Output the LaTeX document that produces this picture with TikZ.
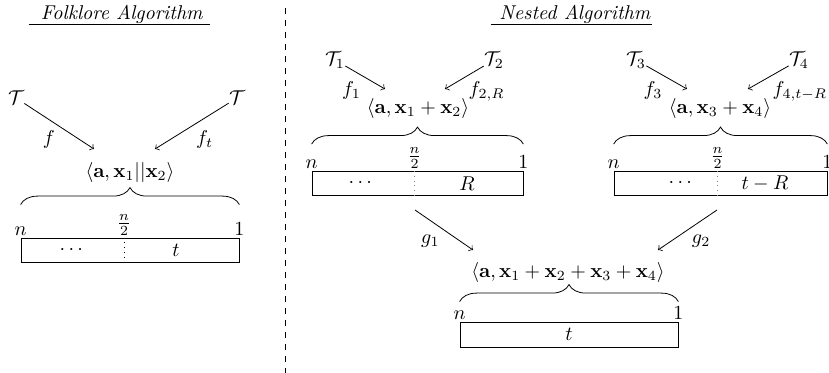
\documentclass[tikz,border=0pt]{standalone}
\usepackage{amsmath}
\usepackage{amssymb}
\usepackage{tikz}
\usetikzlibrary{decorations.pathreplacing}
\tikzstyle{regbox}=[draw, rectangle, inner sep=0pt, minimum height=12pt]
\tikzstyle{tnode}=[inner sep=0pt]
\tikzstyle{darrow}=[->]
\tikzstyle{labelsty}=[inner sep=2pt]
\tikzstyle{endsty}=[inner sep=1pt, anchor=south]
\tikzstyle{titlesty}=[inner xsep=0pt, inner ysep=0.5pt]
\tikzstyle{bracesty}=[decorate, decoration={brace, amplitude=8.5pt}]
\tikzstyle{divsty}=[dotted]

\begin{document}
\begin{tikzpicture}[x=0.5pt,y=-0.5pt]
			\useasboundingbox (0,0) rectangle (829,373);
			
			% folklore side
			\node[titlesty] (ltitle) at (122,14) {\textit{Folklore Algorithm}};
			\draw ([xshift=-6pt]ltitle.south west) -- ([xshift=3.5pt]ltitle.south east);
			
			\node[tnode] (lT) at (16,98) {$\mathcal{T}$};
			\node[tnode] (rT) at (237,98) {$\mathcal{T}$};
			\coordinate (lTin) at (94,149);
			\coordinate (rTin) at (155,149);
			\draw[darrow] (lT) -- node[below left,labelsty]{$f$} (lTin);
			\draw[darrow] (rT) -- node[below right,labelsty]{$f_t$} (rTin);
			
			\node (lsum) at (130,173) {$\langle \mathbf{a}, \mathbf{x}_1 || \mathbf{x}_2 \rangle$};
			\node[regbox, minimum width=109pt] (lbox) at (130,250) {};
			\draw[bracesty] ([yshift=16.5pt]lbox.north west) -- ([yshift=16.5pt]lbox.north east);
			\draw[divsty] ([xshift=-3pt]lbox.north) -- ([xshift=-3pt]lbox.south);
			\node[endsty] at (lbox.north west) {$n$};
			\node[endsty] at ([xshift=-3pt]lbox.north) {$\frac{n}{2}$};
			\node[endsty] at (lbox.north east) {$1$};
			\node at (73,250) {$\cdots$};
			\node at (176,250) {$t$};
			
			% separator
			\coordinate (sepa) at (285,8);
			\coordinate (sepb) at (285,373);
			\draw[dashed] (sepa) -- (sepb);
			
			% nested side
			\node[titlesty] (rtitle) at (575,14) {\textit{Nested Algorithm}};
			\draw ([xshift=-4pt]rtitle.south west) -- ([xshift=0.5pt]rtitle.south east);
			
			\node[tnode] (T1) at (335,60) {$\mathcal{T}_1$};
			\node[tnode] (T2) at (494,60) {$\mathcal{T}_2$};
			\node[tnode] (T3) at (636,60) {$\mathcal{T}_3$};
			\node[tnode] (T4) at (799,60) {$\mathcal{T}_4$};
			\coordinate (T1in) at (385,89);
			\coordinate (T2in) at (445,89);
			\coordinate (T3in) at (687,89);
			\coordinate (T4in) at (748,89);
			\draw[darrow] (T1) -- node[below left,labelsty]{$f_1$} (T1in);
			\draw[darrow] (T2) -- node[below right,labelsty]{$f_{2,R}$} (T2in);
			\draw[darrow] (T3) -- node[below left,labelsty]{$f_3$} (T3in);
			\draw[darrow] (T4) -- node[below right,labelsty]{$f_{4,t-R}$} (T4in);
			
			\node (sum12) at (418,109) {$\langle \mathbf{a}, \mathbf{x}_1 + \mathbf{x}_2 \rangle$};
			\node (sum34) at (720,109) {$\langle \mathbf{a}, \mathbf{x}_3 + \mathbf{x}_4 \rangle$};
			
			\node[regbox, minimum width=105.5pt] (box12) at (417.5,183.5) {};
			\node[regbox, minimum width=106.5pt] (box34) at (720.5,183.5) {};
			\foreach \b in {box12,box34}{
				\draw[bracesty] ([yshift=13.5pt]\b.north west) -- ([yshift=13.5pt]\b.north east);
				\draw[divsty,gray] ([xshift=-1.5pt]\b.north) -- ([xshift=-1.5pt]\b.south);
				\node[endsty] at (\b.north west) {$n$};
				\node[endsty] at ([xshift=-1.5pt]\b.north) {$\frac{n}{2}$};
				\node[endsty] at (\b.north east) {$1$};
			}
			\node at (362,183.5) {$\cdots$};
			\node at (467,183.5) {$R$};
			\node at (682,183.5) {$\cdots$};
			\node at (765,183.5) {$t-R$};
			
			\coordinate (g1out) at (415,210);
			\coordinate (g2out) at (717,210);
			\coordinate (g1in) at (473,250);
			\coordinate (g2in) at (658,250);
			\draw[darrow] (g1out) -- node[below left,labelsty]{$g_1$} (g1in);
			\draw[darrow] (g2out) -- node[below right,labelsty]{$g_2$} (g2in);
			
			\node (sumall) at (568,273) {$\langle \mathbf{a}, \mathbf{x}_1 + \mathbf{x}_2 + \mathbf{x}_3 + \mathbf{x}_4 \rangle$};
			\node[regbox, minimum width=109pt, minimum height=12.5pt] (boxall) at (569,334.5) {};
			\draw[bracesty] ([yshift=10pt]boxall.north west) -- ([yshift=10pt]boxall.north east);
			\node[endsty] at (boxall.north west) {$n$};
			\node[endsty] at (boxall.north east) {$1$};
			\node at (boxall.center) {$t$};
		\end{tikzpicture}
\end{document}
